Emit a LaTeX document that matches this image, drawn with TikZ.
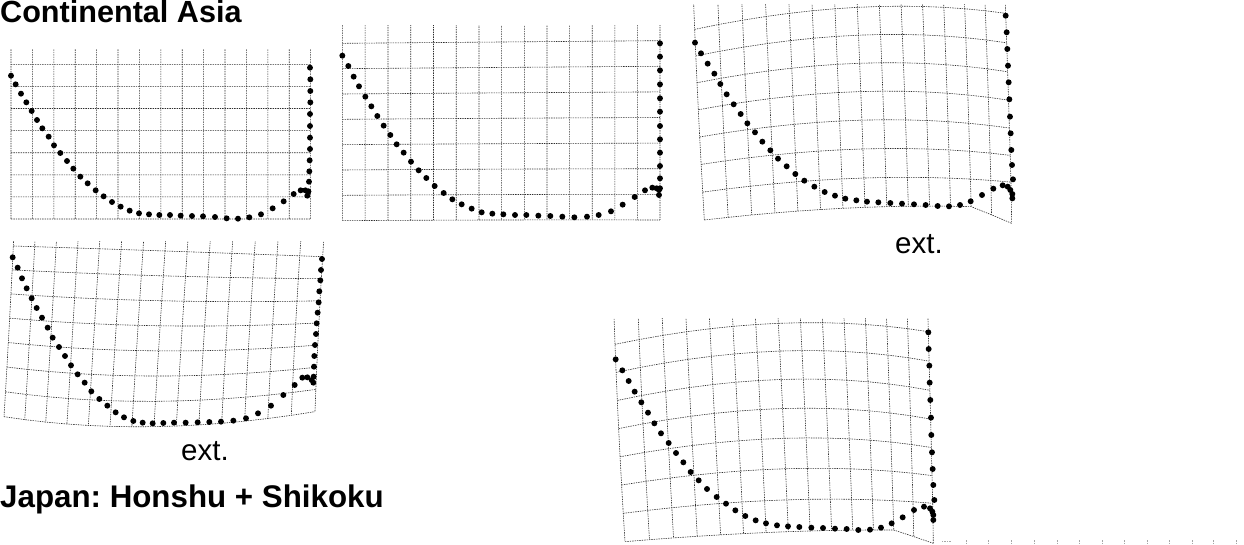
\documentclass[tikz,border=0pt]{standalone}
\usepackage{fontspec}
\setmainfont{Liberation Sans}
\frenchspacing
\newcommand\qqsetX[9]{\def\qqXAa{#1}\def\qqXAb{#2}\def\qqXAc{#3}\def\qqXBa{#4}\def\qqXBb{#5}\def\qqXBc{#6}\def\qqXCa{#7}\def\qqXCb{#8}\def\qqXCc{#9}}
\newcommand\qqsetY[9]{\def\qqYAa{#1}\def\qqYAb{#2}\def\qqYAc{#3}\def\qqYBa{#4}\def\qqYBb{#5}\def\qqYBc{#6}\def\qqYCa{#7}\def\qqYCb{#8}\def\qqYCc{#9}}
\newcommand\qqwarp[2]{%
  \pgfmathsetmacro\qqLa{((#1)-7)*((#1)-14)/98}%
  \pgfmathsetmacro\qqLb{(#1)*(14-(#1))/49}%
  \pgfmathsetmacro\qqLc{(#1)*((#1)-7)/98}%
  \pgfmathsetmacro\qqMa{((#2)-3.5)*((#2)-7)/24.5}%
  \pgfmathsetmacro\qqMb{(#2)*(7-(#2))/12.25}%
  \pgfmathsetmacro\qqMc{(#2)*((#2)-3.5)/24.5}%
  \pgfmathsetmacro\qqwx{(\qqLa)*((\qqMa)*\qqXAa+(\qqMb)*\qqXAb+(\qqMc)*\qqXAc)+(\qqLb)*((\qqMa)*\qqXBa+(\qqMb)*\qqXBb+(\qqMc)*\qqXBc)+(\qqLc)*((\qqMa)*\qqXCa+(\qqMb)*\qqXCb+(\qqMc)*\qqXCc)}%
  \pgfmathsetmacro\qqwy{(\qqLa)*((\qqMa)*\qqYAa+(\qqMb)*\qqYAb+(\qqMc)*\qqYAc)+(\qqLb)*((\qqMa)*\qqYBa+(\qqMb)*\qqYBb+(\qqMc)*\qqYBc)+(\qqLc)*((\qqMa)*\qqYCa+(\qqMb)*\qqYCb+(\qqMc)*\qqYCc)+\qqD*max(0,(#1)-12)/2*max(0,(#2)-6)}%
}
\newcommand\qqgrid[2]{%
  \begin{scope}
  \clip (-200,#2) rectangle (1300,800);
  \foreach \c in {0,...,14}{\foreach \k in {0,...,8}{%
     \pgfmathtruncatemacro\qqr{\k-1}%
     \qqwarp{\c}{\qqr}%
     \coordinate (P#1x\c y\k) at (\qqwx,\qqwy);}}
  \foreach \c in {0,...,14}{\draw[gridl] (P#1x\c y0) \foreach \k in {1,...,8}{ -- (P#1x\c y\k)};}
  \foreach \k in {1,...,8}{\draw[gridl] (P#1x0y\k) \foreach \c in {1,...,14}{ -- (P#1x\c y\k)};}
  \end{scope}}
\tikzset{
  gridl/.style={line width=0.6pt, dash pattern=on 1.4pt off 1pt, black!82},
  titlef/.style={font=\fontsize{30.6}{36}\selectfont\bfseries, inner sep=0pt, anchor=base west},
  extf/.style={font=\fontsize{29.5}{34}\selectfont, inner sep=0pt, anchor=base west},
}
\begin{document}
\begin{tikzpicture}[x=1pt,y=-1pt]
\useasboundingbox (0,0) rectangle (1244,545);
% ---------- panel 1
\begin{scope}[shift={(0,40)},scale=1/3]
\qqsetX{33}{33}{33}{482.5}{482.5}{482.5}{932}{932}{932}
\qqsetY{73}{305}{537}{73}{305}{537}{73}{305}{537}
\def\qqD{0}
\qqgrid{1}{30}
\foreach \x/\y in {33/107,47/133,63/161,79/187,95/213,111/240,127/265,146/290,162/316,181/339,201/363,220/386,241/410,263/430,287/451,311/469,336/486,362/500,389/512,417/520,447/523,478/525,510/525,542/527,576/528,609/529,645/531,680/535,714/536,748/532,783/523,818/505,851/484,881/462,902/451,916/451,925/454,922/467,930/83,931/118,931/153,931/187,930/222,930/258,930/293,930/327,929/361,928/394,927/425,925/455}
  \fill (\x,\y) circle[radius=8.9];
\end{scope}
% ---------- panel 2
\begin{scope}[shift={(335,20)},scale=1/3]
\qqsetX{22}{22}{22}{500}{500}{500}{975}{975}{975}
\qqsetY{70}{336}{602}{66}{333}{600}{62}{331}{600}
\def\qqD{0}
\qqgrid{2}{18}
\foreach \x/\y in {22/107,40/138,56/170,72/199,91/230,109/259,127/288,146/317,166/345,185/373,206/398,228/425,251/451,274/474,299/498,326/519,352/538,380/553,410/566,440/577,472/581,505/583,540/585,574/585,610/587,646/588,682/590,718/592,756/590,791/585,828/574,863/554,899/531,930/511,952/503,965/505,972/510,972/525,975/70,975/110,975/151,975/193,975/235,975/275,975/318,975/358,975/398,975/438,975/475,975/505}
  \fill (\x,\y) circle[radius=8.9];
\end{scope}
% ---------- panel 3
\begin{scope}[shift={(685,0)},scale=1/3]
\qqsetX{29}{42}{58}{517}{529}{540}{962}{972}{980}
\qqsetY{88}{370}{660}{22}{317.5}{622}{40}{342.5}{625}
\def\qqD{45}
\qqgrid{3}{15}
\foreach \x/\y in {30/128,48/160,68/191,88/221,106/252,125/283,146/313,167/342,187/370,210/397,232/425,256/451,279/476,305/499,331/522,358/542,388/560,419/576,450/587,481/596,514/601,546/605,580/607,616/609,651/611,687/613,722/615,758/618,792/619,825/615,857/604,891/585,925/566,953/556,968/560,976/570,982/582,982/595,962/47,965/97,967/147,969/197,971/247,973/298,975/350,977/400,979/450,981/495,984/538}
  \fill (\x,\y) circle[radius=8.9];
\end{scope}
% ---------- panel 4
\begin{scope}[shift={(0,240)},scale=1/3]
\qqsetX{40}{27}{12}{495}{478}{462}{968}{955}{945}
\qqsetY{18}{271}{530}{33}{295}{560}{50}{282}{515}
\def\qqD{0}
\qqgrid{4}{5}
\foreach \x/\y in {38/52,53/83,66/115,80/145,95/175,110/204,126/233,143/263,158/293,177/321,195/348,213/376,233/403,254/428,274/454,298/477,322/497,347/517,372/532,400/543,428/548,458/550,490/549,522/548,557/548,593/547,628/546,663/545,700/542,738/535,774/520,813/497,850/465,884/435,907/413,922/412,935/420,940/428,966/57,963/90,961/121,958/154,956/187,953/218,950/250,948/282,945/315,943/348,942/380,941/410}
  \fill (\x,\y) circle[radius=8.9];
\end{scope}
% ---------- panel 5
\begin{scope}[shift={(600,310)},scale=1/3]
\qqsetX{45}{58}{75}{535}{550}{565}{985}{993}{1000}
\qqsetY{103}{398}{695}{40}{340}{665}{65}{370}{662}
\def\qqD{38}
\qqgrid{5}{25}
\foreach \x/\y in {47/148,67/181,86/213,104/245,124/277,144/308,163/340,183/370,206/399,228/429,250/457,272/486,296/511,321/537,350/561,378/581,406/601,436/618,467/631,498/640,531/646,564/649,598/651,634/653,669/654,705/656,740/657,775/660,810/659,843/653,875/640,908/622,942/600,972/590,990/595,997/605,1000/615,1000/630,985/67,986/117,988/167,989/218,991/270,993/323,994/375,996/427,998/477,1000/525,1003/570}
  \fill (\x,\y) circle[radius=8.9];
\end{scope}
% ---------- faint ticks at bottom right
\foreach \x in {966,988,1011,1034,1057,1079,1102,1124,1147,1169,1192,1213,1236}
  \draw[gridl,black!35] (\x,540.3) -- (\x,545);
\draw[gridl,black!35] (942,541) -- (951,541);
% ---------- texts
\node[titlef] (ca) at (0,22.6) {Continental Asia};
\node[titlef,font=\fontsize{31.3}{36}\selectfont\bfseries] (jp) at (0,507.3) {Japan: Honshu + Shikoku};
\node[extf] (e1) at (895,253.3) {ext.};
\node[extf] (e2) at (181,460.3) {ext.};
\end{tikzpicture}
\end{document}
